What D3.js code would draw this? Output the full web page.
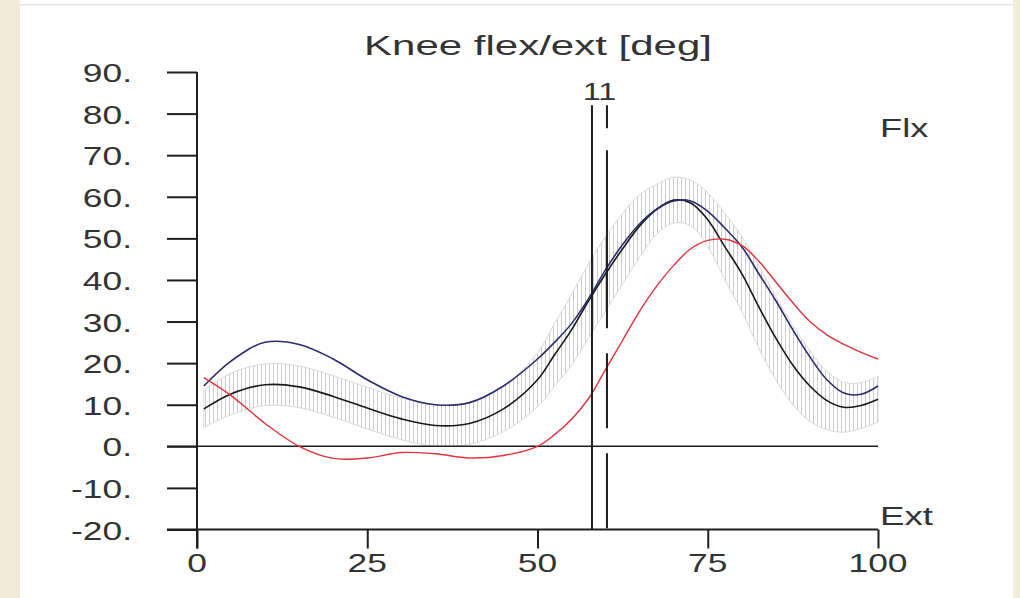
<!DOCTYPE html>
<html>
<head>
<meta charset="utf-8">
<script src="https://cdn.jsdelivr.net/npm/d3@7"></script>
<style>
  html, body { margin: 0; padding: 0; background: #f3ecd9; }
  #chart svg { display: block; }
  text { font-family: "Liberation Sans", Arial, sans-serif; fill: #333; }
</style>
</head>
<body>
<div id="chart"></div>
<script>
// % of gait cycle
const cycle = [1, 5, 10, 15, 20, 25, 30, 35, 40, 45, 50, 52.5, 55, 57.5, 60, 62.5, 65, 67.5, 70, 72.5, 75, 77.5, 80, 82.5, 85, 87.5, 90, 92.5, 95, 97.5, 100];

// normal band (mean +/- sd)
const normMean = [9, 12.6, 14.8, 14.3, 12, 9.2, 6.6, 5, 5.5, 9, 16, 22, 28, 35, 41.5, 47.5, 53, 57, 59.2, 58.5, 54.5, 48, 41.5, 33.5, 26, 19.5, 14.5, 11, 9.4, 9.8, 11.3];
const normSd = [4.5, 5, 5, 5, 5, 5, 5, 5, 5, 5.5, 6.5, 7.5, 8.5, 9, 9, 8.5, 7.5, 6, 5.5, 5.5, 6.5, 8, 9, 10, 10, 9.5, 8.5, 7, 6, 5.5, 5.5];

// patient curves
const blueKnee = [14.5, 20.5, 25, 24.5, 21, 16, 12, 10, 10.5, 14.5, 21, 25, 29.5, 35.5, 42.5, 48.5, 53.5, 57, 59, 59, 56.5, 52.5, 48, 41.5, 35, 28, 21.5, 16, 12.8, 12.5, 14.5];
const redKnee = [16.5, 12.2, 5.5, 0, -2.9, -2.8, -1.5, -1.8, -2.8, -2.2, 0, 2.8, 6.5, 11.5, 18.5, 25.5, 32.5, 38.5, 43.5, 47.5, 49.5, 49.8, 48.3, 44.5, 39.5, 34.5, 30, 26.8, 24.5, 22.6, 21];

const yTicks = [90, 80, 70, 60, 50, 40, 30, 20, 10, 0, -10, -20];
const xTicks = [0, 25, 50, 75, 100];
const eventX = [58, 60.2];
const eventTop = 82;
const eventLabel = "11";

const width = 1020;
const height = 598;

const svg = d3.select("#chart").append("svg")
    .attr("width", width)
    .attr("height", height);

// white page with thin top rule
svg.append("rect")
    .attr("x", 20).attr("y", 0)
    .attr("width", 993).attr("height", height)
    .attr("fill", "#fff");
svg.append("rect")
    .attr("x", 20).attr("y", 4)
    .attr("width", 993).attr("height", 1.5)
    .attr("fill", "#e6e6e6");

const x = d3.scaleLinear().domain([0, 100]).range([197, 878]);
const y = d3.scaleLinear().domain([-20, 90]).range([529.5, 72]);

// hatching for the normal band
const defs = svg.append("defs");
const hatch = defs.append("pattern")
    .attr("id", "hatch")
    .attr("patternUnits", "userSpaceOnUse")
    .attr("width", 4)
    .attr("height", 10);
hatch.append("line")
    .attr("x1", 1.5).attr("x2", 1.5)
    .attr("y1", 0).attr("y2", 10)
    .attr("stroke", "#cdcdcd")
    .attr("stroke-width", 1);

function stretchedText(g, px, py, txt, size, sx, anchor) {
    return g.append("text")
        .attr("transform", `translate(${px},${py}) scale(${sx},1)`)
        .attr("text-anchor", anchor)
        .attr("font-size", size)
        .text(txt);
}

const idx = cycle.map((c, i) => i);

const band = d3.area()
    .x(i => x(cycle[i]))
    .y0(i => y(normMean[i] - normSd[i]))
    .y1(i => y(normMean[i] + normSd[i]))
    .curve(d3.curveCatmullRom);

svg.append("path")
    .attr("d", band(idx))
    .attr("fill", "url(#hatch)")
    .attr("stroke", "#dadada")
    .attr("stroke-width", 1);

// axes
const axisColor = "#1e1e1e";

const yAxis = svg.append("g")
    .attr("transform", `translate(${x(0)},0)`)
    .call(d3.axisLeft(y).tickValues(yTicks).tickSize(30).tickFormat(""));
yAxis.select(".domain").remove();
yAxis.selectAll("line").attr("stroke", axisColor).attr("stroke-width", 2);

const xAxis = svg.append("g")
    .attr("transform", `translate(0,${y(-20)})`)
    .call(d3.axisBottom(x).tickValues(xTicks).tickSize(19).tickFormat(""));
xAxis.select(".domain").remove();
xAxis.selectAll("line").attr("stroke", axisColor).attr("stroke-width", 2);

// axis lines
svg.append("line")
    .attr("x1", x(0)).attr("x2", x(0))
    .attr("y1", y(90)).attr("y2", y(-20) + 19)
    .attr("stroke", axisColor).attr("stroke-width", 2);
svg.append("line")
    .attr("x1", x(0) - 30).attr("x2", x(100))
    .attr("y1", y(-20)).attr("y2", y(-20))
    .attr("stroke", axisColor).attr("stroke-width", 2);
// zero line
svg.append("line")
    .attr("x1", x(0) - 30).attr("x2", x(100))
    .attr("y1", y(0)).attr("y2", y(0))
    .attr("stroke", axisColor).attr("stroke-width", 1.6);

// tick labels
yTicks.forEach(t => {
    stretchedText(svg, x(0) - 65, y(t) + 10, t + ".", 26, 1.36, "end");
});
xTicks.forEach(t => {
    stretchedText(svg, x(t), 572, String(t), 26, 1.36, "middle");
});

// curves
const line = series => d3.line()
    .x(i => x(cycle[i]))
    .y(i => y(series[i]))
    .curve(d3.curveCatmullRom)(idx);

svg.append("path")
    .attr("d", line(normMean))
    .attr("fill", "none")
    .attr("stroke", "#1a1a1a")
    .attr("stroke-width", 1.6);

svg.append("path")
    .attr("d", line(blueKnee))
    .attr("fill", "none")
    .attr("stroke", "#2c2c6e")
    .attr("stroke-width", 1.6);

svg.append("path")
    .attr("d", line(redKnee))
    .attr("fill", "none")
    .attr("stroke", "#e2333d")
    .attr("stroke-width", 1.4);

// gait events: foot off (solid) and normal foot off (dashed)
svg.append("line")
    .attr("x1", x(eventX[0])).attr("x2", x(eventX[0]))
    .attr("y1", y(eventTop)).attr("y2", y(-20))
    .attr("stroke", axisColor).attr("stroke-width", 2);
svg.append("line")
    .attr("x1", x(eventX[1])).attr("x2", x(eventX[1]))
    .attr("y1", y(eventTop)).attr("y2", y(-20))
    .attr("stroke", axisColor).attr("stroke-width", 2)
    .attr("stroke-dasharray", "23,22,178,25,75,25,75");

stretchedText(svg, (x(eventX[0]) + x(eventX[1])) / 2, 100, eventLabel, 24, 1.35, "middle");

// title and direction labels
stretchedText(svg, 538, 55, "Knee flex/ext [deg]", 28, 1.5, "middle");
stretchedText(svg, 880, 137, "Flx", 25, 1.45, "start");
stretchedText(svg, 880, 525, "Ext", 25, 1.47, "start");
</script>
</body>
</html>
